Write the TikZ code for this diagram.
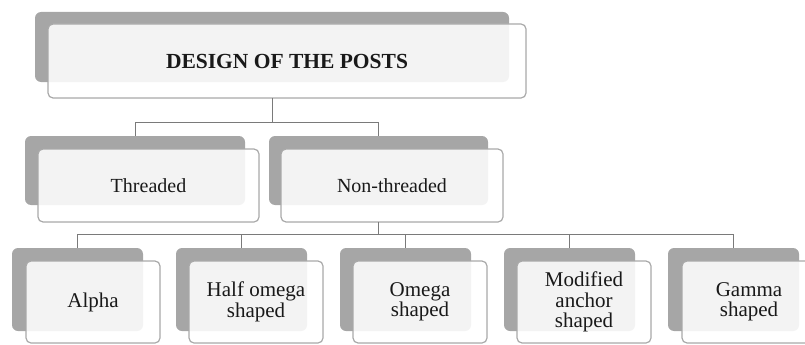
\documentclass[tikz,border=0pt]{standalone}
\usepackage{fontspec}
\setmainfont{Liberation Serif}
\definecolor{shadowgrey}{HTML}{A6A6A6}
\definecolor{edgegrey}{HTML}{A9A9A9}
\definecolor{linegrey}{HTML}{7A7A7A}
\begin{document}
\begin{tikzpicture}[x=1pt,y=-1pt,
  backbox/.style={draw=none,fill=shadowgrey,rounded corners=6pt,inner sep=0pt,outer sep=0pt,anchor=north west},
  frontbox/.style={draw=edgegrey,line width=1.2pt,fill=white,fill opacity=0.87,text opacity=1,rounded corners=5pt,inner sep=0pt,outer sep=0pt,anchor=north west,align=center,text=black!90},
  conn/.style={draw=linegrey,line width=0.8pt}]
\useasboundingbox (0,0) rectangle (805,345);
\clip (0,0) rectangle (805,345);
% top
\node[backbox,minimum width=474pt,minimum height=70pt] (g0) at (35,12) {};
\node[frontbox,minimum width=478pt,minimum height=74pt,font=\fontsize{21.5}{22}\selectfont\bfseries] (w0) at (48,24) {DESIGN OF THE POSTS};
% middle row
\node[backbox,minimum width=220pt,minimum height=69pt] (g1) at (25,136) {};
\node[frontbox,minimum width=221pt,minimum height=73pt,font=\fontsize{20}{21}\selectfont] (w1) at (38,149) {Threaded};
\node[backbox,minimum width=219pt,minimum height=69pt] (g2) at (269,136) {};
\node[frontbox,minimum width=222pt,minimum height=73pt,font=\fontsize{20}{21}\selectfont] (w2) at (281,149) {Non-threaded};
% bottom row
\tikzset{lowback/.style={backbox,minimum width=131pt,minimum height=83pt},
         lowfront/.style={frontbox,minimum width=134pt,minimum height=82pt,font=\fontsize{21}{20.5}\selectfont}}
\node[lowback] (g3) at (12,248) {};
\node[lowfront] (w3) at (26,261) {Alpha};
\node[lowback] (g4) at (176,248) {};
\node[lowfront] (w4) at (189,261) {Half omega\\shaped};
\node[lowback] (g5) at (340,248) {};
\node[lowfront] (w5) at (353,261) {Omega\\shaped};
\node[lowback] (g6) at (504,248) {};
\node[lowfront] (w6) at (517,261) {Modified\\anchor\\shaped};
\node[lowback] (g7) at (668,248) {};
\node[lowfront] (w7) at (682,261) {Gamma\\shaped};
% connectors
\draw[conn] (w0.south -| g0.north) -- ++(0,24) -| (g1.north);
\draw[conn] (w0.south -| g0.north) -- ++(0,24) -| (g2.north);
\foreach \k in {3,...,7}{
  \draw[conn] (w2.south -| g2.north) -- ++(0,12) -| (g\k.north);
}
\end{tikzpicture}
\end{document}
